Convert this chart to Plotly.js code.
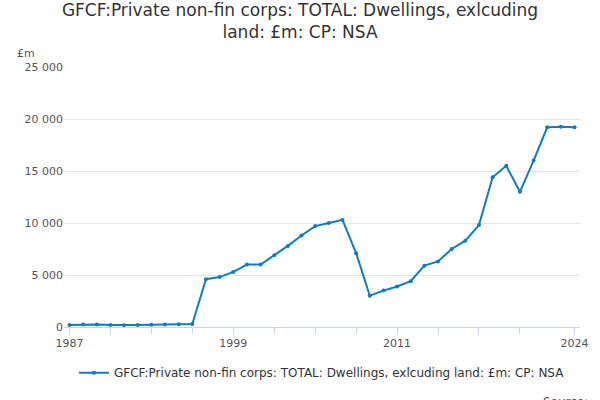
<!DOCTYPE html><html><head><script src="https://cdn.plot.ly/plotly-3.0.1.min.js"></script></head><body style="margin:0"><div id="c" style="width:600px;height:400px"></div><script>
const years=[];for(let y=1987;y<=2024;y++)years.push(y);
const values=[200,250,230,200,180,200,220,240,260,280,4600,4800,5300,6000,6000,6900,7800,8800,9700,10000,10300,7100,3000,3500,3900,4400,5900,6300,7500,8300,9800,14400,15500,13000,16000,19200,19250,19200];
const tickYears=[1987,1990,1993,1996,1999,2002,2005,2008,2011,2014,2017,2020,2024];
const labelYears=[1987,1999,2011,2024];
Plotly.newPlot('c',[{x:years,y:values,mode:'lines+markers',line:{color:'#0f7bc4',width:2},marker:{size:4,color:'#0f7bc4'},name:'GFCF:Private non-fin corps: TOTAL: Dwellings, exlcuding land: £m: CP: NSA'}],{
width:600,height:400,font:{family:'DejaVu Sans',color:'#444'},
title:{text:'GFCF:Private non-fin corps: TOTAL: Dwellings, exlcuding land: £m: CP: NSA'.replace('exlcuding land:','exlcuding<br>land:'),font:{size:17,color:'#333'},y:0.96,yanchor:'top'},
margin:{l:64,r:20,t:67,b:73},
xaxis:{range:[1986.6,2024.4],tickvals:tickYears,ticktext:tickYears.map(y=>labelYears.includes(y)?String(y):''),ticks:'outside',ticklen:6,tickcolor:'#ccd6eb',showgrid:false,showline:true,linecolor:'#ccd6eb',tickfont:{size:11,color:'#555'},zeroline:false},
yaxis:{range:[0,25000],tickvals:[0,5000,10000,15000,20000,25000],ticktext:['0','5 000','10 000','15 000','20 000','25 000'],gridcolor:'#e6e6e6',tickfont:{size:11,color:'#555'},zeroline:false},
showlegend:true,legend:{orientation:'h',x:0.5,xanchor:'center',y:-0.12,yanchor:'top',font:{size:12,color:'#333'}},
annotations:[{text:'£m',xref:'paper',yref:'paper',x:-0.095,y:1.02,yanchor:'bottom',showarrow:false,xanchor:'left',font:{size:11,color:'#555'}},
{text:'Source:',xref:'paper',yref:'paper',x:1.02,y:-0.29,yanchor:'middle',showarrow:false,xanchor:'right',font:{size:12,color:'#555'}}]
},{displayModeBar:false});
</script></body></html>
